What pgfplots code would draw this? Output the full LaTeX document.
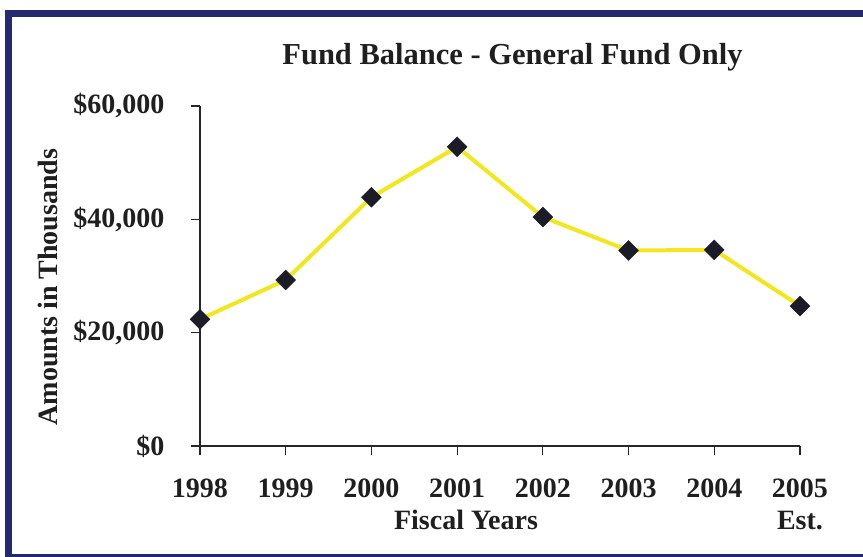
\documentclass[border=0pt]{standalone}
\usepackage{fontspec}
\setmainfont{Liberation Serif}
\usepackage{pgfplots}
\pgfplotsset{compat=1.18}
\definecolor{frame}{RGB}{35,42,110}
\definecolor{lineyellow}{RGB}{242,230,30}
\definecolor{mk}{RGB}{28,28,40}
\begin{document}
\begin{tikzpicture}[x=1pt,y=1pt]
\clip (-200,-111) rectangle (663,446);
\fill[white] (-200,-111) rectangle (663,446);
\draw[frame, line width=7pt] (-191.5,-111.5) rectangle (690,432);
\begin{axis}[
  scale only axis, width=600pt, height=340pt,
  at={(0,0)}, anchor=south west,
  xmin=0, xmax=7, ymin=0, ymax=60000,
  axis lines*=left,
  scaled y ticks=false,
  xtick={0,1,2,3,4,5,6,7},
  xticklabels={1998,1999,2000,2001,2002,2003,2004,2005},
  ytick={0,20000,40000,60000},
  yticklabels={\$0,{\$20,000},{\$40,000},{\$60,000}},
  tick align=outside, major tick length=9pt,
  tick style={black!85, line width=1.2pt},
  axis line style={black!85, line width=1.2pt},
  ticklabel style={font=\fontsize{28}{28}\selectfont\bfseries, text=black!88},
  yticklabel style={xshift=-23pt},
  xticklabel style={yshift=-20pt},
  clip=false,
]
\addplot[lineyellow, line width=4pt, mark=square*, mark size=7pt,
  mark options={rotate=45, fill=mk, draw=mk, line width=0.5pt}]
  coordinates {(0,22360) (1,29300) (2,43900) (3,52800) (4,40400) (5,34500) (6,34600) (7,24700)};
\end{axis}
\node[anchor=base, font=\fontsize{30.5}{30.5}\selectfont\bfseries, text=black!88] at (312.5,381) {Fund Balance - General Fund Only};
\node[anchor=base, font=\fontsize{28}{28}\selectfont\bfseries, text=black!88] at (266,-84) {Fiscal Years};
\node[anchor=base, font=\fontsize{28}{28}\selectfont\bfseries, text=black!88] at (600,-84) {Est.};
\node[anchor=base, rotate=90, font=\fontsize{28}{28}\selectfont\bfseries, text=black!88] at (-142,159) {Amounts in Thousands};
\end{tikzpicture}
\end{document}
